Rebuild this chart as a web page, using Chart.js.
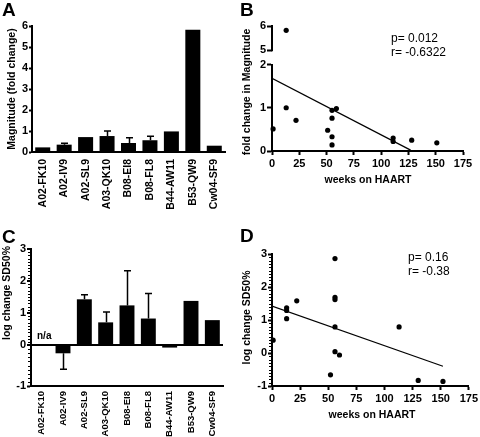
<!DOCTYPE html>
<html>
<head>
<meta charset="utf-8">
<script src="https://cdn.jsdelivr.net/npm/chart.js@4.4.0/dist/chart.umd.min.js"></script>
<style>
  html, body { margin: 0; padding: 0; background: #fff; }
  #wrap { position: relative; width: 480px; height: 437px; overflow: hidden; }
  canvas { position: absolute; }
</style>
</head>
<body>
<div id="wrap">
  <canvas id="chartA" width="240" height="218" style="left:0;top:0"></canvas>
  <canvas id="chartB" width="240" height="218" style="left:240px;top:0"></canvas>
  <canvas id="chartC" width="240" height="219" style="left:0;top:218px"></canvas>
  <canvas id="chartD" width="240" height="219" style="left:240px;top:218px"></canvas>
</div>
<script>
const epitopes = ["A02-FK10", "A02-IV9", "A02-SL9", "A03-QK10", "B08-EI8", "B08-FL8", "B44-AW11", "B53-QW9", "Cw04-SF9"];

// A: fold change in magnitude (bar) and upper error
const magnitude = [0.22, 0.35, 0.71, 0.76, 0.43, 0.56, 0.98, 5.82, 0.30];
const magnitudeErr = [0, 0.07, 0, 0.24, 0.25, 0.19, 0, 0, 0];

// C: log change SD50% (A02-FK10 n/a)
const sd50 = [null, -0.20, 1.43, 0.71, 1.24, 0.83, -0.06, 1.38, 0.78];
const sd50Err = [0, 0.39, 0.14, 0.32, 1.08, 0.78, 0, 0, 0];

// B: weeks on HAART vs fold change in magnitude
const weeksB = [13, 13, 1, 22, 55, 59, 55, 51, 55, 55, 111, 111, 128, 151];
const foldB = [5.82, 1.0, 0.51, 0.71, 0.94, 0.98, 0.76, 0.48, 0.33, 0.14, 0.30, 0.22, 0.25, 0.19];
const fitB = [{ x: 0, y: 1.68 }, { x: 127, y: 0.02 }];

// D: weeks on HAART vs log change SD50%
const weeksD = [1, 13, 13, 13, 22, 56, 56, 56, 56, 56, 60, 52, 113, 130, 152];
const sd50D = [0.39, 1.37, 1.29, 1.04, 1.58, 2.86, 1.69, 1.62, 0.79, 0.04, -0.06, -0.66, 0.79, -0.83, -0.86];
const fitD = [{ x: 0, y: 1.42 }, { x: 152, y: -0.40 }];

const weekTicks = [0, 25, 50, 75, 100, 125, 150, 175];
const brokenTicksB = [5, 6];
const negTicksC = [-1];

const FONT = '"Liberation Sans", Arial, sans-serif';
Chart.defaults.font.family = FONT;
Chart.defaults.font.weight = 'bold';
Chart.defaults.font.size = 11;
Chart.defaults.color = '#000';

const axisLine = { color: '#000', width: 2 };
const tickFont = { size: 11, weight: 'bold' };

function tickGrid(len) {
    return { drawOnChartArea: false, tickLength: len, tickColor: '#000', tickWidth: 2 };
}

// panel letter, axis titles, notes
const panelText = {
    id: 'panelText',
    afterDraw(chart, args, opts) {
        const ctx = chart.ctx;
        ctx.save();
        ctx.fillStyle = '#000';
        ctx.textBaseline = 'alphabetic';
        ctx.textAlign = 'left';
        ctx.font = 'bold 19px ' + FONT;
        ctx.fillText(opts.letter, opts.letterX, opts.letterY);

        ctx.font = 'bold 10.5px ' + FONT;
        ctx.textAlign = 'center';
        ctx.textBaseline = 'middle';
        if (opts.yTitle) {
            ctx.save();
            ctx.translate(opts.yTitle.x, opts.yTitle.y);
            ctx.rotate(-Math.PI / 2);
            ctx.fillText(opts.yTitle.text, 0, 0);
            ctx.restore();
        }
        if (opts.xTitle) {
            ctx.fillText(opts.xTitle.text, opts.xTitle.x, opts.xTitle.y);
        }
        (opts.notes || []).forEach(n => {
            ctx.font = n.font || ('12px ' + FONT);
            ctx.textAlign = 'left';
            ctx.fillText(n.text, n.x, n.y);
        });
        ctx.restore();
    }
};

// upward / downward error bars with caps
const errorBars = {
    id: 'errorBars',
    afterDatasetsDraw(chart) {
        const ctx = chart.ctx;
        ctx.save();
        ctx.strokeStyle = '#000';
        ctx.lineWidth = 1.5;
        chart.data.datasets.forEach((ds, di) => {
            if (!ds.errors) return;
            const meta = chart.getDatasetMeta(di);
            const yScale = chart.scales[meta.yAxisID];
            meta.data.forEach((bar, i) => {
                const v = ds.data[i];
                const e = ds.errors[i];
                if (v == null || !e) return;
                const end = yScale.getPixelForValue(v < 0 ? v - e : v + e);
                const x = Math.round(bar.x) + 0.5;
                ctx.beginPath();
                ctx.moveTo(x, bar.y);
                ctx.lineTo(x, end);
                ctx.moveTo(x - 3.5, end);
                ctx.lineTo(x + 3.5, end);
                ctx.stroke();
            });
        });
        ctx.restore();
    }
};

// short minor ticks on the y axis (every 0.1)
const minorTicks = {
    id: 'minorTicks',
    afterDraw(chart, args, opts) {
        const ctx = chart.ctx;
        ctx.save();
        ctx.strokeStyle = '#000';
        ctx.lineWidth = 1;
        (opts.scales || []).forEach(id => {
            const s = chart.scales[id];
            const lo = Math.round(s.min * 10), hi = Math.round(s.max * 10);
            for (let k = lo; k <= hi; k++) {
                if (k % 10 === 0) continue;
                const y = Math.round(s.getPixelForValue(k / 10)) + 0.5;
                ctx.beginPath();
                ctx.moveTo(s.right - 3, y);
                ctx.lineTo(s.right, y);
                ctx.stroke();
            }
        });
        ctx.restore();
    }
};

// axis line for the upper piece of a broken axis
const segmentBorder = {
    id: 'segmentBorder',
    afterDraw(chart, args, opts) {
        if (!opts.scale) return;
        const s = chart.scales[opts.scale];
        const ctx = chart.ctx;
        const x = Math.round(s.right);
        ctx.save();
        ctx.strokeStyle = '#000';
        ctx.lineWidth = 2;
        ctx.beginPath();
        ctx.moveTo(x, s.getPixelForValue(opts.to) - 1);
        ctx.lineTo(x, s.getPixelForValue(opts.from) + 1);
        ctx.stroke();
        ctx.restore();
    }
};

Chart.register(panelText, errorBars, minorTicks, segmentBorder);

const baseOptions = {
    responsive: false,
    animation: false,
    devicePixelRatio: 1,
    events: []
};

// ---------- A ----------
new Chart(document.getElementById('chartA'), {
    type: 'bar',
    data: {
        labels: epitopes,
        datasets: [{
            data: magnitude,
            errors: magnitudeErr,
            backgroundColor: '#000',
            borderWidth: 0,
            barPercentage: 0.7,
            categoryPercentage: 1
        }]
    },
    options: {
        ...baseOptions,
        layout: { padding: { left: 0, right: 15, top: 26, bottom: 0 } },
        plugins: {
            legend: { display: false },
            tooltip: { enabled: false },
            panelText: { letter: 'A', letterX: 2, letterY: 16, yTitle: { text: 'Magnitude (fold change)', x: 12.5, y: 89 } }
        },
        scales: {
            x: {
                grid: { display: false, drawTicks: false },
                border: axisLine,
                ticks: { minRotation: 90, maxRotation: 90, autoSkip: false, padding: 7, font: { size: 10.5, weight: 'bold' } },
                afterFit: s => { s.height = 66; }
            },
            y: {
                min: 0, max: 6,
                ticks: { stepSize: 1, padding: 1, font: tickFont },
                grid: tickGrid(3),
                border: axisLine,
                afterFit: s => { s.width = 32; }
            }
        }
    }
});

// ---------- B ----------
const ptsB = weeksB.map((w, i) => ({ x: w, y: foldB[i] }));
new Chart(document.getElementById('chartB'), {
    type: 'scatter',
    data: {
        datasets: [
            { data: ptsB.filter(p => p.y < 5), yAxisID: 'y', pointRadius: 2.6, pointBackgroundColor: '#000', pointBorderWidth: 0, clip: false },
            { data: ptsB.filter(p => p.y >= 5), yAxisID: 'yTop', pointRadius: 2.6, pointBackgroundColor: '#000', pointBorderWidth: 0, clip: false },
            { data: fitB, yAxisID: 'y', showLine: true, borderColor: '#000', borderWidth: 1.2, pointRadius: 0 }
        ]
    },
    options: {
        ...baseOptions,
        layout: { padding: { left: 0, right: 17, top: 26, bottom: 0 } },
        plugins: {
            legend: { display: false },
            tooltip: { enabled: false },
            panelText: {
                letter: 'B', letterX: 0, letterY: 16,
                yTitle: { text: 'fold change in Magnitude', x: 7, y: 92 },
                xTitle: { text: 'weeks on HAART', x: 128, y: 180 },
                notes: [{ text: 'p= 0.012', x: 151, y: 39 }, { text: 'r= -0.6322', x: 151, y: 53 }]
            },
            segmentBorder: { scale: 'yTop', from: 5, to: 6 }
        },
        scales: {
            x: {
                type: 'linear', min: 0, max: 175,
                afterBuildTicks: s => { s.ticks = weekTicks.map(v => ({ value: v })); },
                ticks: { padding: 2, font: tickFont },
                grid: tickGrid(4),
                border: axisLine,
                afterFit: s => { s.height = 67; }
            },
            // stacked scales: the one defined later sits on top
            y: {
                position: 'left', stack: 'left', stackWeight: 86.7,
                min: 0, max: 2,
                ticks: { stepSize: 1, padding: 1, font: tickFont, callback: v => String(v) },
                grid: tickGrid(5),
                border: axisLine,
                afterFit: s => { s.width = 32; }
            },
            yTop: {
                type: 'linear', position: 'left', stack: 'left', stackWeight: 38.6,
                min: 4.41, max: 6,
                afterBuildTicks: s => { s.ticks = brokenTicksB.map(v => ({ value: v })); },
                ticks: { padding: 1, font: tickFont, callback: v => String(v) },
                grid: tickGrid(5),
                border: { display: false },
                afterFit: s => { s.width = 32; }
            }
        }
    }
});

// ---------- C ----------
new Chart(document.getElementById('chartC'), {
    type: 'bar',
    data: {
        labels: epitopes,
        datasets: [
            {
                data: sd50.map(v => (v != null && v >= 0 ? v : null)),
                errors: sd50Err,
                yAxisID: 'y',
                backgroundColor: '#000', borderWidth: 0,
                barPercentage: 0.7, categoryPercentage: 1, grouped: false
            },
            {
                data: sd50.map(v => (v != null && v < 0 ? v : null)),
                errors: sd50Err,
                yAxisID: 'yNeg',
                backgroundColor: '#000', borderWidth: 0,
                barPercentage: 0.7, categoryPercentage: 1, grouped: false
            }
        ]
    },
    options: {
        ...baseOptions,
        layout: { padding: { left: 0, right: 17, top: 31, bottom: 0 } },
        plugins: {
            legend: { display: false },
            tooltip: { enabled: false },
            panelText: {
                letter: 'C', letterX: 2, letterY: 25,
                yTitle: { text: 'log change SD50%', x: 7.5, y: 75 },
                notes: [{ text: 'n/a', x: 37, y: 118, font: 'bold 10px ' + FONT }]
            },
            minorTicks: { scales: ['y', 'yNeg'] }
        },
        scales: {
            x: {
                grid: { display: false, drawTicks: false },
                border: axisLine,
                ticks: { minRotation: 90, maxRotation: 90, autoSkip: false, padding: 5, font: { size: 9.5, weight: 'bold' } },
                afterFit: s => { s.height = 51; }
            },
            yNeg: {
                type: 'linear', position: 'left', stack: 'left', stackWeight: 40.7,
                min: -1, max: 0,
                afterBuildTicks: s => { s.ticks = negTicksC.map(v => ({ value: v })); },
                ticks: { padding: 1, font: tickFont, callback: v => String(v) },
                grid: tickGrid(4),
                border: axisLine,
                afterFit: s => { s.width = 31; }
            },
            y: {
                type: 'linear', position: 'left', stack: 'left', stackWeight: 95.7,
                min: 0, max: 3,
                ticks: { stepSize: 1, padding: 1, font: tickFont, callback: v => String(v) },
                grid: {
                    drawOnChartArea: true,
                    color: c => (c.tick && c.tick.value === 0 ? '#000' : 'rgba(0,0,0,0)'),
                    lineWidth: 2,
                    tickLength: 4, tickColor: '#000', tickWidth: 2
                },
                border: axisLine,
                afterFit: s => { s.width = 31; }
            }
        }
    }
});

// ---------- D ----------
new Chart(document.getElementById('chartD'), {
    type: 'scatter',
    data: {
        datasets: [
            { data: weeksD.map((w, i) => ({ x: w, y: sd50D[i] })), pointRadius: 2.6, pointBackgroundColor: '#000', pointBorderWidth: 0, clip: false },
            { data: fitD, showLine: true, borderColor: '#000', borderWidth: 1.2, pointRadius: 0 }
        ]
    },
    options: {
        ...baseOptions,
        layout: { padding: { left: 0, right: 11, top: 36, bottom: 0 } },
        plugins: {
            legend: { display: false },
            tooltip: { enabled: false },
            panelText: {
                letter: 'D', letterX: 0, letterY: 24,
                yTitle: { text: 'log change SD50%', x: 7.5, y: 99.5 },
                xTitle: { text: 'weeks on HAART', x: 132, y: 197 },
                notes: [{ text: 'p= 0.16', x: 168, y: 40 }, { text: 'r= -0.38', x: 168, y: 54 }]
            },
            minorTicks: { scales: ['y'] }
        },
        scales: {
            x: {
                type: 'linear', min: 0, max: 175,
                afterBuildTicks: s => { s.ticks = weekTicks.map(v => ({ value: v })); },
                ticks: { padding: 2, font: tickFont },
                grid: tickGrid(4),
                border: axisLine,
                afterFit: s => { s.height = 51; }
            },
            y: {
                min: -1, max: 3,
                ticks: { stepSize: 1, padding: 1, font: tickFont, callback: v => String(v) },
                grid: tickGrid(4),
                border: axisLine,
                afterFit: s => { s.width = 32; }
            }
        }
    }
});
</script>
</body>
</html>
